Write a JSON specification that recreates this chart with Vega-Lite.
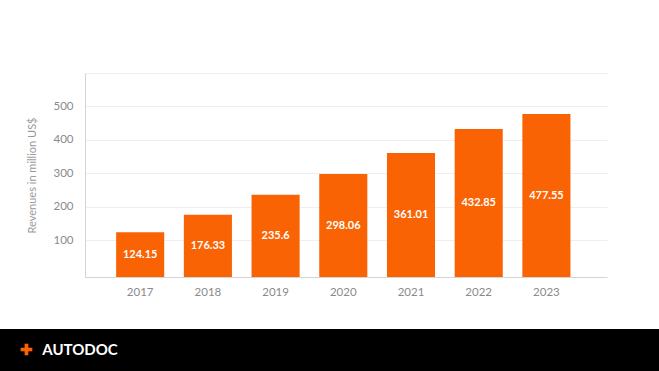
{
  "$schema": "https://vega.github.io/schema/vega-lite/v6.json",
  "padding": {"top": 73, "left": 0, "right": 0, "bottom": 0},
  "background": "#ffffff",
  "spacing": 31,
  "config": {"font": "Lato", "view": {"stroke": null}},
  "datasets": {
    "rev": [
      {"year": "2017", "revenue": 124.15},
      {"year": "2018", "revenue": 176.33},
      {"year": "2019", "revenue": 235.6},
      {"year": "2020", "revenue": 298.06},
      {"year": "2021", "revenue": 361.01},
      {"year": "2022", "revenue": 432.85},
      {"year": "2023", "revenue": 477.55}
    ],
    "brand": [
      {"item": "✚"},
      {"item": "AUTODOC"}
    ]
  },
  "vconcat": [
    {
      "width": 522,
      "height": 204,
      "data": {"name": "rev"},
      "encoding": {
        "x": {
          "field": "year",
          "type": "ordinal",
          "scale": {"paddingInner": 0.29, "paddingOuter": 0.5, "align": 0.46},
          "axis": {
            "title": null,
            "labelAngle": 0,
            "labelColor": "#8a8a8a",
            "labelFontSize": 11.5,
            "labelPadding": 9,
            "ticks": false,
            "domainColor": "#d4d4d4",
            "grid": false
          }
        }
      },
      "layer": [
        {
          "mark": {"type": "bar", "color": "#F96303"},
          "encoding": {
            "y": {
              "field": "revenue",
              "type": "quantitative",
              "scale": {"domain": [-10, 600], "nice": false, "zero": false},
              "axis": {
                "values": [100, 200, 300, 400, 500, 600],
                "labelExpr": "datum.value < 600 ? datum.label : ''",
                "title": "Revenues in million US$",
                "titleColor": "#9a9a9a",
                "titleFontSize": 11,
                "titleFontWeight": "normal",
                "titlePadding": 15,
                "labelColor": "#8a8a8a",
                "labelFontSize": 11.5,
                "labelPadding": 12,
                "ticks": false,
                "domainColor": "#d4d4d4",
                "grid": true,
                "gridColor": "#efefef"
              }
            },
            "y2": {"datum": -10}
          }
        },
        {
          "mark": {"type": "text", "color": "#ffffff", "fontSize": 11, "fontWeight": "bold", "baseline": "middle", "dy": 2},
          "encoding": {
            "y": {"field": "revenue", "type": "quantitative", "stack": "zero", "bandPosition": 0.5},
            "text": {"field": "revenue", "type": "quantitative", "format": ".2~f"}
          }
        }
      ]
    },
    {
      "width": 574,
      "height": 42,
      "view": {"fill": "#000000", "stroke": null},
      "data": {"name": "brand"},
      "mark": {"type": "text", "fontSize": 15, "fontWeight": "bold", "baseline": "middle", "align": "center"},
      "encoding": {
        "x": {
          "field": "item",
          "type": "nominal",
          "sort": null,
          "scale": {"type": "point", "range": [-59, -5], "padding": 0},
          "axis": null
        },
        "y": {
          "datum": 0,
          "type": "quantitative",
          "scale": {"domain": [-1, 1]},
          "axis": {
            "title": ".",
            "titleColor": "#000000",
            "titleAngle": 0,
            "titleX": -85,
            "titleY": 21,
            "titleAlign": "left",
            "titleBaseline": "middle",
            "labels": false,
            "ticks": false,
            "grid": false,
            "domain": true,
            "domainColor": "#000000",
            "domainWidth": 172,
            "domainCap": "butt",
            "translate": 0
          }
        },
        "color": {
          "field": "item",
          "type": "nominal",
          "scale": {"domain": ["✚", "AUTODOC"], "range": ["#F96303", "#ffffff"]},
          "legend": null
        },
        "text": {"field": "item"}
      }
    }
  ]
}
